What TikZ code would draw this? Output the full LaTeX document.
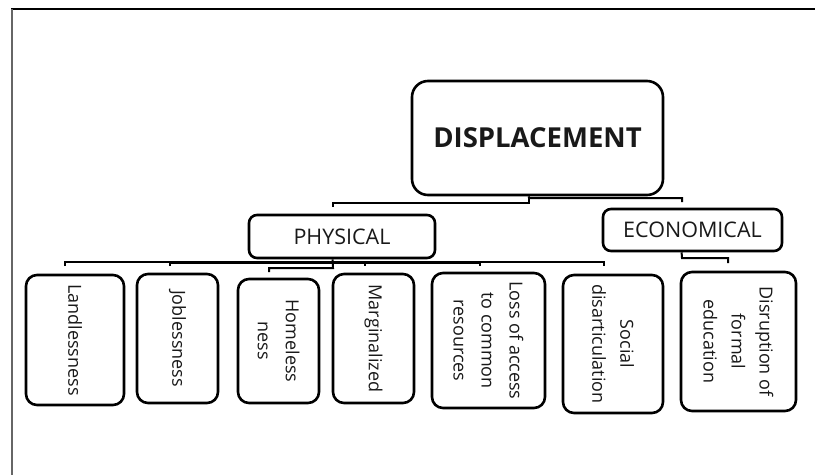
\documentclass[tikz,border=0pt]{standalone}
\usepackage{fontspec}
\setmainfont{Open Sans}
\usetikzlibrary{calc}
\begin{document}
\begin{tikzpicture}[x=1pt,y=-1pt,
  boxbase/.style={draw=black, line width=2.6pt, fill=white, inner sep=2pt, align=center, text=black!90},
  top/.style={boxbase, rounded corners=16pt, font=\bfseries\fontsize{27.5}{33}\selectfont},
  mid/.style={boxbase, rounded corners=8pt, font=\fontsize{21.5}{26}\selectfont},
  leaf/.style={boxbase, rounded corners=11pt, rotate=-90, font=\fontsize{18}{28}\selectfont},
  conn/.style={draw=black, line width=2pt}]
\useasboundingbox (0,0) rectangle (815,475);
\draw[black, line width=1.6pt] (11,9) -- (815,9);
\draw[black!60, line width=2.2pt] (12,9) -- (12,475);
% top levels
\node[top, minimum width=251pt, minimum height=114pt] (disp) at (537.5,138) {DISPLACEMENT};
\node[mid, minimum width=186pt, minimum height=43pt] (phys) at (342,236.5) {PHYSICAL};
\node[mid, minimum width=179pt, minimum height=42pt] (econ) at (692.5,230) {ECONOMICAL};
% leaves (rotated: width = visual height)
\node[leaf, minimum width=130pt, minimum height=98pt] (land) at (75,340) {Landlessness};
\node[leaf, minimum width=129pt, minimum height=81pt] (job) at (177.5,338.5) {Joblessness};
\node[leaf, minimum width=124pt, minimum height=81pt] (home) at (278.5,341) {Homeless\\ness};
\node[leaf, minimum width=129pt, minimum height=81pt] (marg) at (373.5,338.5) {Marginalized};
\node[leaf, minimum width=135pt, minimum height=113pt] (loss) at (488.5,340.5) {Loss of access\\to common\\resources};
\node[leaf, minimum width=138pt, minimum height=100pt] (soc) at (613,344) {Social\\disarticulation};
\node[leaf, minimum width=139pt, minimum height=115pt] (dis) at (738.5,341.5) {Disruption of\\formal\\education};
% connector end points
\coordinate (dpt) at ($(disp.south west)!0.466!(disp.south east)$);
\coordinate (ppt) at ($(phys.south west)!0.45!(phys.south east)$);
\coordinate (ept) at ($(econ.south west)!0.44!(econ.south east)$);
\coordinate (pin) at (333,207);
\coordinate (ein) at (682,202);
\coordinate (d1) at (65,266);
\coordinate (d2) at (170,266);
\coordinate (d3) at (269,272);
\coordinate (d4) at (365,265.5);
\coordinate (d5) at (480,265.5);
\coordinate (d6) at (604,266);
\coordinate (d7) at (728,263);
% DISPLACEMENT -> PHYSICAL / ECONOMICAL
\draw[conn] (dpt) -- (529,198) -- (682,198) -- (ein);
\draw[conn] (529,198) -- (529,203) -- (333,203) -- (pin);
% PHYSICAL -> leaves
\draw[conn] (ppt) -- (333,268) -- (269,268) -- (d3);
\draw[conn] (d1) -- (65,262) -- (604,262) -- (d6);
\draw[conn, line width=1.2pt] (170,263.8) -- (480,263.8);
\draw[conn] (d2) -- (170,262);
\draw[conn] (d4) -- (365,262);
\draw[conn] (d5) -- (480,262);
% ECONOMICAL -> leaf
\draw[conn] (ept) -- (682,258) -- (728,258) -- (d7);
\end{tikzpicture}
\end{document}
